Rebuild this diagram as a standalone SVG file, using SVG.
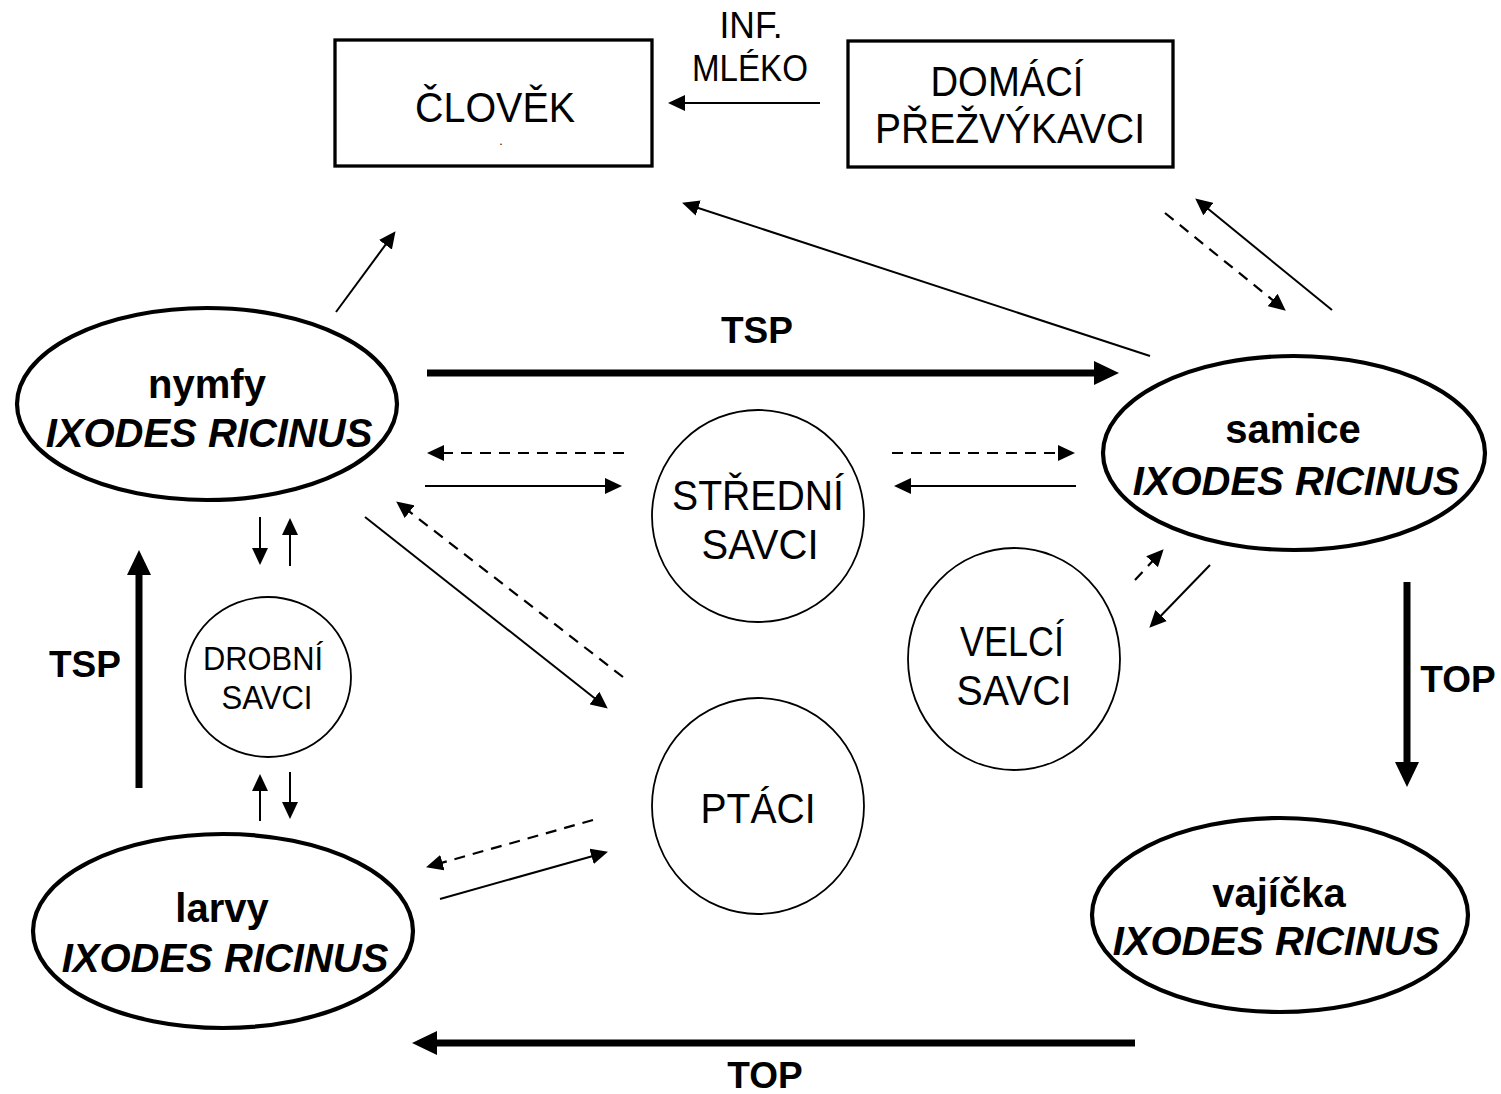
<svg xmlns="http://www.w3.org/2000/svg" width="1501" height="1094" viewBox="0 0 1501 1094">
<defs>
<style>
.box{fill:#fff;stroke:#000;stroke-width:3.3}
.stage{fill:#fff;stroke:#000;stroke-width:4.2}
.host{fill:#fff;stroke:#000;stroke-width:1.8}
.t{font-family:"Liberation Sans",Arial,sans-serif;fill:#000;text-anchor:middle}
.big{font-size:42px}
.mid{font-size:36px}
.sm{font-size:33px}
.bl{font-size:40px;font-weight:bold}
.bi{font-size:40px;font-weight:bold;font-style:italic}
.lab{font-size:37px;font-weight:bold}
.thin{fill:none;stroke:#000;stroke-width:2;marker-end:url(#ah)}
.dash{fill:none;stroke:#000;stroke-width:2.2;stroke-dasharray:11,8;marker-end:url(#ah)}
.thick{fill:none;stroke:#000;stroke-width:7;marker-end:url(#ahb)}
</style>
<marker id="ah" markerUnits="userSpaceOnUse" markerWidth="17" markerHeight="16" refX="8" refY="8" orient="auto">
<path d="M0,0 L17,8 L0,16 Z" fill="#000"/>
</marker>
<marker id="ahb" markerUnits="userSpaceOnUse" markerWidth="25" markerHeight="24" refX="12" refY="12" orient="auto">
<path d="M0,0 L25,12 L0,24 Z" fill="#000"/>
</marker>
</defs>
<rect width="1501" height="1094" fill="#fff"/>

<g id="connectors">
<line class="thin" x1="820" y1="103" x2="677" y2="103"/>
<line class="thin" x1="336" y1="312" x2="390.2" y2="238.4"/>
<line class="thin" x1="1150" y1="356" x2="690.6" y2="205.5"/>
<line class="dash" x1="1165" y1="213" x2="1278.8" y2="305"/>
<line class="thin" x1="1332" y1="310" x2="1202.2" y2="204.1"/>
<line class="dash" x1="624" y1="453" x2="436" y2="453"/>
<line class="thin" x1="425" y1="486" x2="613" y2="486"/>
<line class="dash" x1="892" y1="453" x2="1066" y2="453"/>
<line class="thin" x1="1076" y1="486" x2="903" y2="486"/>
<line class="thin" x1="365" y1="517" x2="600.7" y2="703"/>
<line class="dash" x1="623" y1="677" x2="403.3" y2="506.9"/>
<line class="dash" x1="593" y1="820" x2="434.7" y2="864.8"/>
<line class="thin" x1="440" y1="899" x2="599.3" y2="854.2"/>
<line class="dash" x1="1135" y1="580" x2="1157.5" y2="555.9"/>
<line class="thin" x1="1210" y1="565" x2="1155.6" y2="621.3"/>
<line class="thin" x1="260" y1="517" x2="260" y2="556"/>
<line class="thin" x1="290" y1="566" x2="290" y2="527"/>
<line class="thin" x1="260" y1="821" x2="260" y2="783"/>
<line class="thin" x1="290" y1="772" x2="290" y2="810"/>
<line class="thick" x1="427" y1="373" x2="1106" y2="373"/>
<line class="thick" x1="139" y1="788" x2="139" y2="563"/>
<line class="thick" x1="1407" y1="582" x2="1407" y2="774"/>
<line class="thick" x1="1135" y1="1043" x2="425" y2="1043"/>
<text class="t mid" x="751" y="38" textLength="63" lengthAdjust="spacingAndGlyphs">INF.</text>
<text class="t mid" x="750" y="81" textLength="116" lengthAdjust="spacingAndGlyphs">MLÉKO</text>
<text class="t lab" x="757" y="343">TSP</text>
<text class="t lab" x="85" y="677">TSP</text>
<text class="t lab" x="1458" y="692">TOP</text>
<text class="t lab" x="765" y="1088">TOP</text>
</g>

<g id="clovek">
<rect class="box" x="335" y="40" width="317" height="126"/>
<text class="t big" x="495" y="122" textLength="160" lengthAdjust="spacingAndGlyphs">ČLOVĚK</text>
<text class="t" x="501" y="145" font-size="12">.</text>
</g>

<g id="domaci">
<rect class="box" x="848" y="41" width="325" height="126"/>
<text class="t big" x="1007" y="96" textLength="153" lengthAdjust="spacingAndGlyphs">DOMÁCÍ</text>
<text class="t big" x="1010" y="143" textLength="270" lengthAdjust="spacingAndGlyphs">PŘEŽVÝKAVCI</text>
</g>

<g id="nymfy">
<ellipse class="stage" cx="207" cy="404" rx="190" ry="96"/>
<text class="t bl" x="207" y="398">nymfy</text>
<text class="t bi" x="209" y="447">IXODES RICINUS</text>
</g>

<g id="samice">
<ellipse class="stage" cx="1294" cy="453" rx="191" ry="97"/>
<text class="t bl" x="1293" y="443">samice</text>
<text class="t bi" x="1296" y="495">IXODES RICINUS</text>
</g>

<g id="larvy">
<ellipse class="stage" cx="223" cy="931" rx="190" ry="97"/>
<text class="t bl" x="222" y="922">larvy</text>
<text class="t bi" x="225" y="972">IXODES RICINUS</text>
</g>

<g id="vajicka">
<ellipse class="stage" cx="1280" cy="915" rx="188" ry="97"/>
<text class="t bl" x="1279" y="907">vajíčka</text>
<text class="t bi" x="1276" y="955">IXODES RICINUS</text>
</g>

<g id="stredni">
<ellipse class="host" cx="758" cy="516" rx="106" ry="106"/>
<text class="t big" x="758" y="510" textLength="172" lengthAdjust="spacingAndGlyphs">STŘEDNÍ</text>
<text class="t big" x="760" y="559" textLength="117" lengthAdjust="spacingAndGlyphs">SAVCI</text>
</g>

<g id="drobni">
<ellipse class="host" cx="268" cy="677" rx="83" ry="80"/>
<text class="t sm" x="263" y="670" textLength="120" lengthAdjust="spacingAndGlyphs">DROBNÍ</text>
<text class="t sm" x="267" y="709" textLength="91" lengthAdjust="spacingAndGlyphs">SAVCI</text>
</g>

<g id="velci">
<ellipse class="host" cx="1014" cy="659" rx="106" ry="111"/>
<text class="t big" x="1012" y="656" textLength="104" lengthAdjust="spacingAndGlyphs">VELCÍ</text>
<text class="t big" x="1014" y="705" textLength="115" lengthAdjust="spacingAndGlyphs">SAVCI</text>
</g>

<g id="ptaci">
<ellipse class="host" cx="758" cy="806" rx="106" ry="108"/>
<text class="t big" x="758" y="823" textLength="115" lengthAdjust="spacingAndGlyphs">PTÁCI</text>
</g>
</svg>
